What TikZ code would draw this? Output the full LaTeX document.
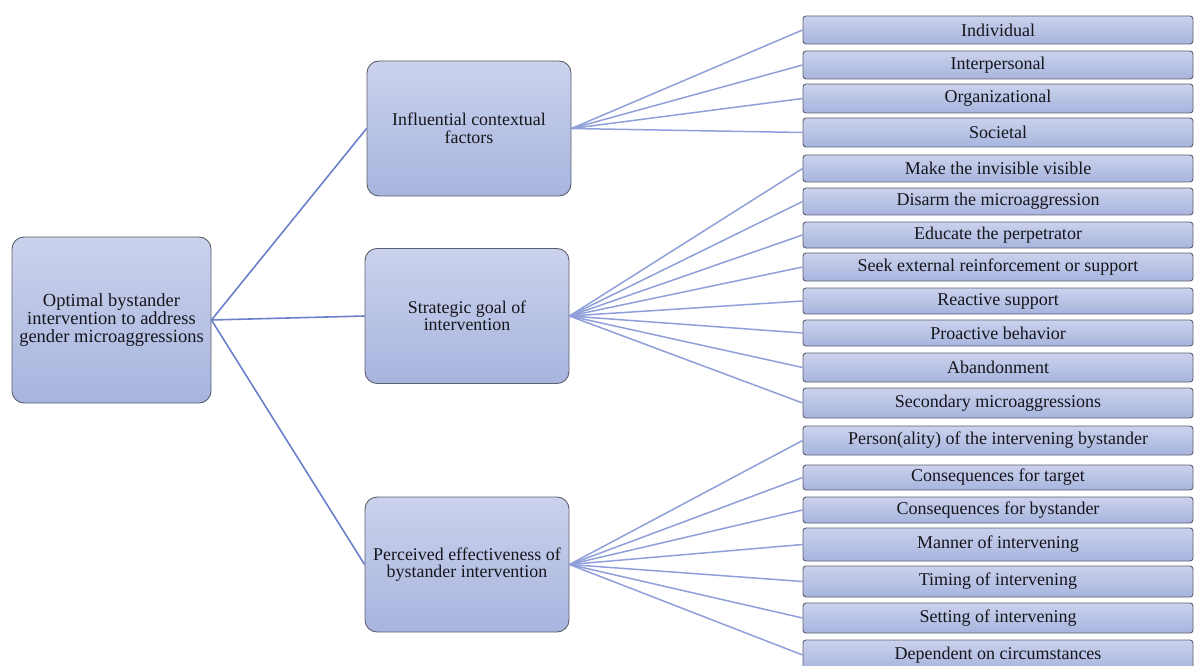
\documentclass[tikz,border=0pt]{standalone}
\usepackage{fontspec}
\setmainfont{Liberation Serif}
\definecolor{boxtop}{HTML}{CBD2EC}
\definecolor{boxbot}{HTML}{A7B4DE}
\definecolor{boxline}{HTML}{5C5F6E}
\definecolor{linkdark}{HTML}{6C80CA}
\definecolor{linklight}{HTML}{8F9FD9}
\definecolor{ink}{HTML}{16161C}
\tikzset{
  base/.style={draw=boxline, line width=0.9pt, top color=boxtop, bottom color=boxbot,
    text=ink, align=center, inner sep=0pt},
  rootbox/.style={base, rounded corners=12pt, minimum width=199pt, minimum height=166pt,
    font=\fontsize{18.5}{18}\selectfont},
  midbox/.style={base, rounded corners=12pt, minimum width=204pt, minimum height=135pt,
    font=\fontsize{17.9}{17.5}\selectfont},
  leaf/.style={base, rounded corners=3pt, minimum width=390pt,
    font=\fontsize{18}{18}\selectfont},
  trunk/.style={draw=linkdark, line width=1.6pt},
  twig/.style={draw=linklight, line width=1.5pt},
}
\begin{document}
\begin{tikzpicture}[x=1pt,y=-1pt]
\useasboundingbox (0,0) rectangle (1195,666);
\begin{scope}
\clip (0,0) rectangle (1195,666);

% root and the three themes
\node[rootbox] (root) at (111.5,320) {Optimal bystander\\intervention to address\\gender microaggressions};
\node[midbox] (ctx) at (469,128.5) {Influential contextual\\factors};
\node[midbox] (goal) at (467,316) {Strategic goal of\\intervention};
\node[midbox] (eff) at (467,564.5) {Perceived effectiveness of\\bystander intervention};

% leaves: name / centre y / height / label
\foreach \n/\y/\h/\t in {
  l1/30/28/Individual,
  l2/65/28/Interpersonal,
  l3/98.5/29/Organizational,
  l4/132.5/29/Societal,
  l5/168.5/27/Make the invisible visible,
  l6/201.5/27/Disarm the microaggression,
  l7/235/26/Educate the perpetrator,
  l8/267/28/Seek external reinforcement or support,
  l9/301/26/Reactive support,
  l10/333/26/Proactive behavior,
  l11/367.5/29/Abandonment,
  l12/403/30/Secondary microaggressions,
  l13/440.5/29/Person(ality) of the intervening bystander,
  l14/477.5/25/Consequences for target,
  l15/510/26/Consequences for bystander,
  l16/544.5/33/Manner of intervening,
  l17/581.5/31/Timing of intervening,
  l18/618/30/Setting of intervening,
  l19/655/30/Dependent on circumstances}
  \node[leaf, minimum height=\h pt] (\n) at (998,\y) {\t};

% connectors
\foreach \m in {ctx,goal,eff}
  \draw[trunk] (root.east) -- (\m.west);
\foreach \i in {1,...,4}
  \draw[twig] (ctx.east) -- (l\i.west);
\foreach \i in {5,...,12}
  \draw[twig] (goal.east) -- (l\i.west);
\foreach \i in {13,...,19}
  \draw[twig] (eff.east) -- (l\i.west);
\end{scope}
\end{tikzpicture}
\end{document}
